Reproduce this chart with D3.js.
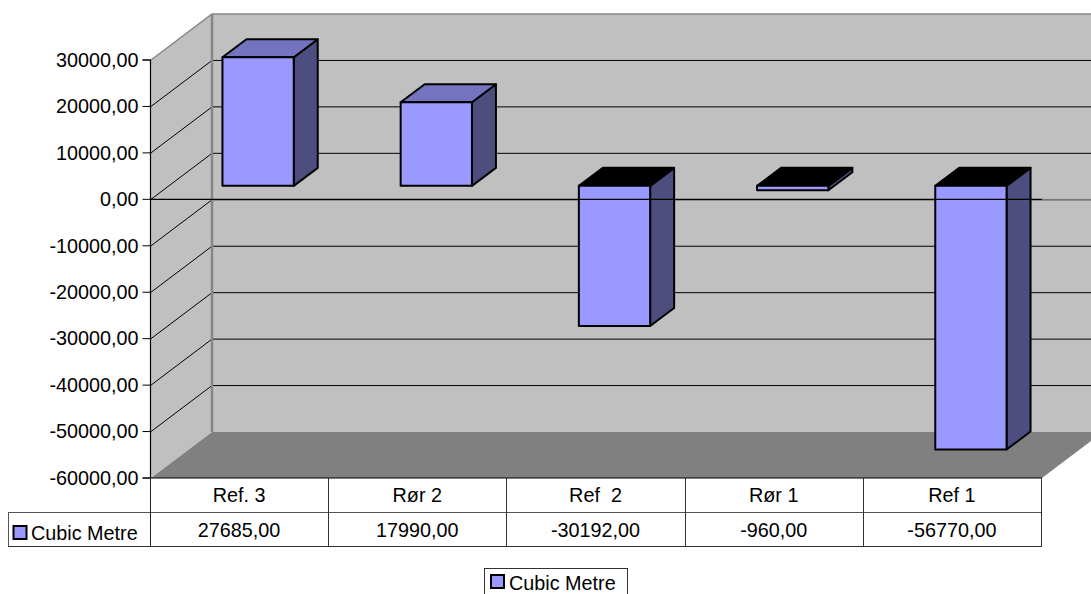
<!DOCTYPE html>
<html>
<head>
<meta charset="utf-8">
<script src="https://cdnjs.cloudflare.com/ajax/libs/d3/7.8.5/d3.min.js"></script>
<style>
html,body{margin:0;padding:0;background:#fff;overflow:hidden}
svg{display:block}
text{font-family:"Liberation Sans",Arial,sans-serif;font-size:19.8px;fill:#000}
</style>
</head>
<body>
<svg id="chart" width="1091" height="594"></svg>
<script>
const categories = ["Ref. 3", "Rør 2", "Ref  2", "Rør 1", "Ref 1"];
const seriesName = "Cubic Metre";
const seriesValues = [27685, 17990, -30192, -960, -56770];
const yTicks = [30000, 20000, 10000, 0, -10000, -20000, -30000, -40000, -50000, -60000];

const W = 1091, H = 594;
const plot = {left: 151, right: 1042, top: 60, bottom: 478};
const depth = {x: 61, y: -46};              // offset of the back wall from the front plane
const barFront = {x: 18, y: -13.5};         // bar front face relative to the front plane
const barDepth = {x: 24, y: -18};
const colors = {wall: "#c0c0c0", floor: "#808080", edge: "#868686",
  front: "#9999ff", side: "#4d4d80", top: "#7373bf", under: "#000000"};

const num = d3.formatLocale({decimal: ",", thousands: "", grouping: [3], currency: ["", ""], minus: "-"}).format(".2f");

const svg = d3.select("#chart");
const y = d3.scaleLinear().domain([-60000, 30000]).range([plot.bottom, plot.top]);
const x = d3.scaleBand().domain(categories).range([plot.left, plot.right]).paddingInner(0.6).paddingOuter(0.3);
const col = d3.scaleBand().domain(categories).range([plot.left, plot.right]);
const poly = pts => pts.map(p => p.join(",")).join(" ");

// Walls and floor of the 3D box
const backX = plot.left + depth.x, backR = plot.right + depth.x;
svg.append("polygon").attr("fill", colors.wall)
  .attr("points", poly([[plot.left, plot.top], [backX, plot.top + depth.y], [backX, plot.bottom + depth.y], [plot.left, plot.bottom]]));
svg.append("rect").attr("fill", colors.wall)
  .attr("x", backX).attr("y", plot.top + depth.y)
  .attr("width", backR - backX).attr("height", plot.bottom - plot.top);
svg.append("polygon").attr("fill", colors.floor)
  .attr("points", poly([[plot.left, plot.bottom], [backX, plot.bottom + depth.y], [backR, plot.bottom + depth.y], [plot.right, plot.bottom]]));

// Gridlines run along the side wall and across the back wall
const gridTicks = yTicks.filter(t => t !== 30000 && t !== -60000);
svg.append("g").selectAll("polyline").data(gridTicks).join("polyline")
  .attr("fill", "none").attr("stroke", "#000").attr("stroke-width", 1)
  .attr("points", d => poly([[plot.left, y(d)], [backX, y(d) + depth.y], [backR, y(d) + depth.y]]));

// Box edges
svg.append("polyline").attr("fill", "none").attr("stroke", colors.edge).attr("stroke-width", 1.5)
  .attr("points", poly([[plot.left, plot.top], [backX, plot.top + depth.y], [backR, plot.top + depth.y]]));
svg.append("line").attr("stroke", colors.edge).attr("stroke-width", 2.5)
  .attr("x1", backX).attr("x2", backX).attr("y1", plot.top + depth.y).attr("y2", plot.bottom + depth.y);
svg.append("line").attr("stroke", colors.edge).attr("stroke-width", 1)
  .attr("x1", plot.right).attr("x2", backR).attr("y1", y(0)).attr("y2", y(0));

// Bars: front, side and cap faces
const bars = svg.append("g").selectAll("g").data(categories.map((c, i) => ({c, v: seriesValues[i]}))).join("g")
  .attr("stroke", "#000").attr("stroke-width", 2).attr("stroke-linejoin", "round");
const fx = d => x(d.c) + barFront.x;
const fr = d => fx(d) + x.bandwidth();
const ftop = d => y(Math.max(d.v, 0)) + barFront.y;
const fbot = d => y(Math.min(d.v, 0)) + barFront.y;
bars.append("polygon").attr("fill", colors.side)
  .attr("points", d => poly([[fr(d), ftop(d)], [fr(d) + barDepth.x, ftop(d) + barDepth.y], [fr(d) + barDepth.x, fbot(d) + barDepth.y], [fr(d), fbot(d)]]));
bars.append("polygon").attr("fill", d => d.v < 0 ? colors.under : colors.top)
  .attr("points", d => poly([[fx(d), ftop(d)], [fx(d) + barDepth.x, ftop(d) + barDepth.y], [fr(d) + barDepth.x, ftop(d) + barDepth.y], [fr(d), ftop(d)]]));
bars.append("rect").attr("fill", colors.front)
  .attr("x", fx).attr("y", ftop).attr("width", x.bandwidth()).attr("height", d => fbot(d) - ftop(d));

// Zero line sits in front of the bars
svg.append("line").attr("stroke", "#000").attr("stroke-width", 1.2)
  .attr("x1", plot.left).attr("x2", plot.right).attr("y1", y(0)).attr("y2", y(0));

// Value axis
const axis = d3.axisLeft(y).tickValues(yTicks).tickFormat(num).tickSize(8).tickPadding(4).offset(0);
const axisG = svg.append("g").attr("transform", `translate(${plot.left - 0.5},0)`).call(axis);
axisG.select(".domain").attr("stroke", "#000").attr("stroke-width", 1.2);
axisG.selectAll("text").style("font-family", '"Liberation Sans",Arial,sans-serif').style("font-size", "19.8px").attr("dy", "0.34em");

// Data table beneath the plot
const row1 = 512.5, row2 = 546.5, keyLeft = 8;
const tbl = svg.append("g").attr("fill", "none");
const hline = (x1, x2, yy, s) => tbl.append("line").attr("x1", x1).attr("x2", x2).attr("y1", yy).attr("y2", yy).attr("stroke", s);
const vline = (xx, y1, y2, s) => tbl.append("line").attr("x1", xx).attr("x2", xx).attr("y1", y1).attr("y2", y2).attr("stroke", s);
hline(plot.left, plot.right, plot.bottom, "#000");
hline(keyLeft, plot.right, row1, "#555");
hline(keyLeft, plot.right, row2, "#333");
vline(keyLeft + .5, row1, row2, "#555");
vline(plot.left - .5, plot.bottom, row2, "#222");
categories.forEach(c => vline(Math.round(col(c) + col.bandwidth()) - .5, plot.bottom, row2, "#333"));

svg.append("g").selectAll("text").data(categories).join("text")
  .attr("x", d => col(d) + col.bandwidth() / 2 - 1).attr("y", 502).attr("text-anchor", "middle")
  .attr("xml:space", "preserve").style("white-space", "pre").text(d => d);
svg.append("g").selectAll("text").data(seriesValues).join("text")
  .attr("x", (d, i) => col(categories[i]) + col.bandwidth() / 2 - 1).attr("y", 537).attr("text-anchor", "middle")
  .text(d => num(d));

// Series key inside the table and in the legend box
function key(gx, gy, tx, ty) {
  svg.append("rect").attr("x", gx).attr("y", gy).attr("width", 13).attr("height", 13)
    .attr("fill", colors.front).attr("stroke", "#000").attr("stroke-width", 2);
  svg.append("text").attr("x", tx).attr("y", ty).text(seriesName);
}
key(13.5, 526, 31, 539.5);
svg.append("rect").attr("x", 484.5).attr("y", 568.5).attr("width", 143).attr("height", 26)
  .attr("fill", "#fff").attr("stroke", "#333");
key(491, 575, 509, 590);
</script>
</body>
</html>
